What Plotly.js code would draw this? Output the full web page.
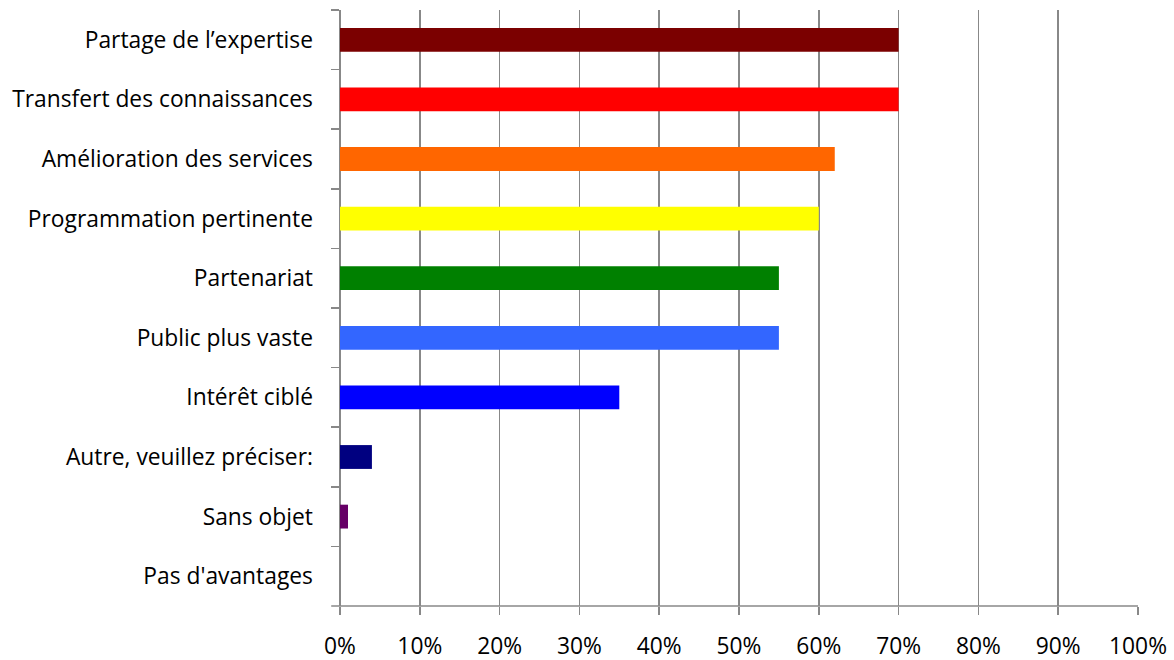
<!DOCTYPE html>
<html><head><meta charset="utf-8">
<script src="https://cdn.plot.ly/plotly-3.0.1.min.js"></script>
<style>html,body{margin:0;padding:0;background:#fff}</style>
</head><body>
<div id="chart" style="width:1174px;height:660px"></div>
<script>
const categories = [
  "Partage de l\u2019expertise",
  "Transfert des connaissances",
  "Amélioration des services",
  "Programmation pertinente",
  "Partenariat",
  "Public plus vaste",
  "Intérêt ciblé",
  "Autre, veuillez préciser:",
  "Sans objet",
  "Pas d'avantages"
];
const values = [0.70, 0.70, 0.62, 0.60, 0.55, 0.55, 0.35, 0.04, 0.01, 0.0];
const colors = ["#7B0000", "#FF0000", "#FF6600", "#FFFF00", "#008000", "#3366FF", "#0000FF", "#000080", "#660066", "#993366"];
const xTicks = [0,0.1,0.2,0.3,0.4,0.5,0.6,0.7,0.8,0.9,1.0];
const xTickLabels = ["0%","10%","20%","30%","40%","50%","60%","70%","80%","90%","100%"];

const trace = {
  type: "bar",
  orientation: "h",
  x: values,
  y: categories,
  marker: {color: colors},
  hoverinfo: "x+y"
};
const font = {family: "'Open Sans', Lato, sans-serif", size: 22.8, color: "#000"};
const layout = {
  width: 1174, height: 660,
  margin: {l: 340, r: 36, t: 10, b: 54},
  paper_bgcolor: "#fff", plot_bgcolor: "#fff",
  showlegend: false,
  bargap: 0.6,
  font: font,
  xaxis: {
    range: [0, 1.0],
    tickvals: xTicks,
    ticktext: xTickLabels,
    showgrid: true, gridcolor: "#888", gridwidth: 1.5,
    showline: false,
    zeroline: true, zerolinecolor: "#888", zerolinewidth: 1.5,
    ticks: "outside", ticklen: 8, tickcolor: "#888", tickwidth: 1.5,
    ticklabelstandoff: 12,
    tickfont: font, fixedrange: true
  },
  yaxis: {
    type: "category",
    categoryorder: "array", categoryarray: categories,
    autorange: "reversed",
    showgrid: false,
    showline: true, linecolor: "#888", linewidth: 1.5,
    ticks: "outside", tickson: "boundaries", ticklen: 8, tickcolor: "#888", tickwidth: 1.5,
    ticklabelstandoff: 21,
    tickfont: font, fixedrange: true
  },
  shapes: [{type: "line", xref: "paper", yref: "paper", x0: -0.011, x1: 1, y0: 0, y1: 0, line: {color: "#888", width: 1.5}}]
};
Plotly.newPlot("chart", [trace], layout, {displayModeBar: false, staticPlot: true});
</script>
</body></html>
